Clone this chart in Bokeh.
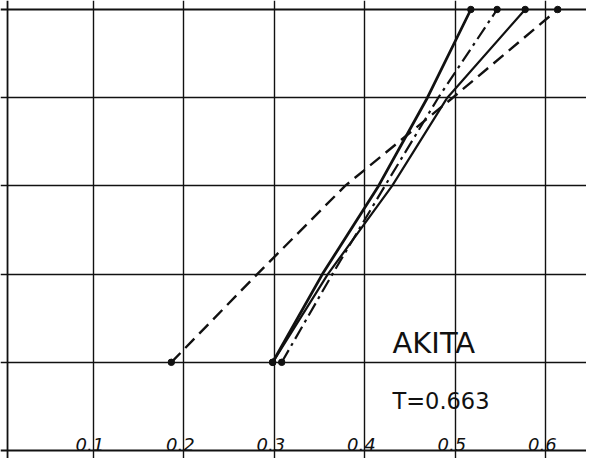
from bokeh.plotting import figure
from bokeh.models import Grid, FixedTicker, Span, Range1d
from bokeh.embed import file_html
from bokeh.resources import INLINE
from bokeh.core.properties import value

# ---- data ----
levels = [1, 2, 3, 4, 5]                          # horizontal grid levels crossed by the curves
curve_solid_a = [0.298, 0.353, 0.415, 0.469, 0.517]
curve_dashdot = [0.308, 0.364, 0.422, 0.481, 0.546]
curve_solid_c = [0.298, 0.359, 0.430, 0.491, 0.577]
curve_dashed = [0.186, 0.281, 0.378, 0.497, 0.613]
x_ticks = [0.1, 0.2, 0.3, 0.4, 0.5, 0.6]
x_tick_labels = ["0.1", "0.2", "0.3", "0.4", "0.5", "0.6"]
y_grid = [1, 2, 3, 4]
y_bottom, y_top = 0, 5
station = "AKITA"
t_text = "T=0.663"

W, H = 586, 458
p = figure(width=W, height=H, output_backend="svg", toolbar_location=None,
           x_range=Range1d(-0.00276, 0.6448), y_range=Range1d(-0.0907, 5.102),
           x_axis_location=None, y_axis_location=None,
           min_border=0, min_border_left=0, min_border_right=0,
           min_border_top=0, min_border_bottom=0)
p.outline_line_color = None
p.background_fill_color = "white"
p.border_fill_color = "white"
p.xgrid.visible = False
p.ygrid.visible = False

ink = "#111111"
p.add_layout(Grid(dimension=0, ticker=FixedTicker(ticks=x_ticks),
                  grid_line_color=ink, grid_line_width=1.4))
p.add_layout(Grid(dimension=1, ticker=FixedTicker(ticks=y_grid),
                  grid_line_color=ink, grid_line_width=1.6))
p.add_layout(Span(location=0.005, dimension="height", line_color=ink, line_width=1.8))
p.add_layout(Span(location=y_bottom, dimension="width", line_color=ink, line_width=1.8))
p.add_layout(Span(location=y_top, dimension="width", line_color=ink, line_width=1.8))

# curves
p.line(curve_dashed, levels, line_color=ink, line_width=2.4, line_dash="13 7")
p.line(curve_solid_c, levels, line_color=ink, line_width=2.2)
p.line(curve_dashdot, levels, line_color=ink, line_width=2.2, line_dash="14 5 3 5")
p.line(curve_solid_a, levels, line_color=ink, line_width=2.8)

for c in (curve_dashed, curve_solid_c, curve_dashdot, curve_solid_a):
    p.scatter([c[0], c[-1]], [levels[0], levels[-1]], size=6.5,
              fill_color=ink, line_color=ink)

# tick labels inside the frame
p.text(x=x_ticks, y=[0.07] * len(x_ticks), text=x_tick_labels,
       text_font=value("DejaVu Sans"), text_font_style="italic",
       text_font_size="18px", text_align="left", text_baseline="alphabetic",
       x_offset=-18, text_color=ink)

p.text(x=[0.4304], y=[1.22], text=[station], text_font=value("DejaVu Sans"),
       text_font_size="29px", text_align="left", text_baseline="alphabetic",
       text_color=ink)
p.text(x=[0.4304], y=[0.56], text=[t_text], text_font=value("DejaVu Sans"),
       text_font_size="22.5px", text_align="left", text_baseline="alphabetic",
       text_color=ink)

open("out.html", "w").write(file_html(p, INLINE))
